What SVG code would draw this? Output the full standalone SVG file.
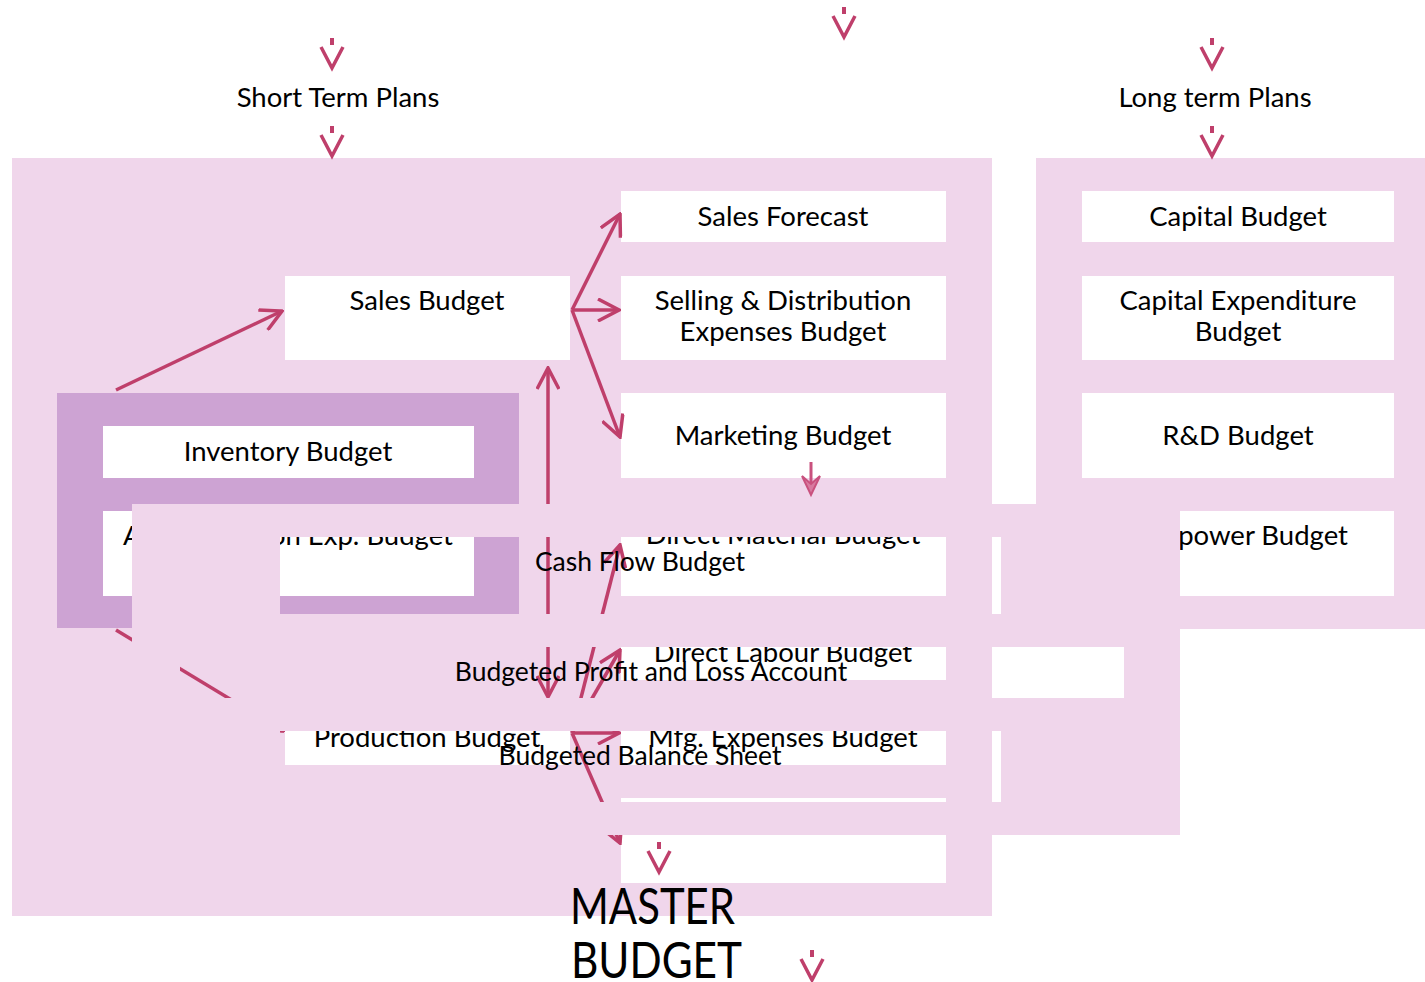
<svg xmlns="http://www.w3.org/2000/svg" width="1425" height="982" viewBox="0 0 1425 982">
<defs>
<style>
.pan{fill:#F0D6EB}
.pur{fill:#CDA3D3}
.box{fill:#FFFFFF}
.t{font-family:Lato,"Open Sans","Liberation Sans",sans-serif;font-size:27.5px;fill:#000;text-anchor:middle}
.o{font-size:26.5px}
.big{font-family:Lato,"Open Sans","Liberation Sans",sans-serif;font-size:50px;fill:#000}
.c{fill:none;stroke:#BF3F6B;stroke-width:3.5}
</style>
<marker id="ah" viewBox="0 0 24 24" refX="22" refY="12" markerWidth="24" markerHeight="24" markerUnits="userSpaceOnUse" orient="auto-start-reverse">
<path d="M1,1 L22,12 L1,23" fill="none" stroke="#BF3F6B" stroke-width="3.5"/>
</marker>
<g id="dn">
<line x1="0" y1="0" x2="0" y2="7" stroke="#BF3F6B" stroke-width="4"/>
<polyline points="-11,9 0,30 11,9" fill="none" stroke="#BF3F6B" stroke-width="3.5"/>
</g>
</defs>

<rect width="1425" height="982" fill="#FFFFFF"/>

<g id="panels">
<rect class="pan" x="12" y="158" width="980" height="758"/>
<rect class="pan" x="1036" y="158" width="389" height="471"/>
<rect class="pur" x="57" y="393" width="462" height="235"/>
</g>

<g id="title-short"><text class="t" x="338" y="107">Short Term Plans</text></g>
<g id="title-long"><text class="t" x="1215" y="107">Long term Plans</text></g>

<g id="sales-forecast"><rect class="box" x="621" y="191" width="325" height="51"/><text class="t" x="783" y="226">Sales Forecast</text></g>
<g id="sales-budget"><rect class="box" x="285" y="276" width="285" height="84"/><text class="t" x="427" y="310">Sales Budget</text></g>
<g id="selling-dist"><rect class="box" x="621" y="276" width="325" height="84"/><text class="t" x="783" y="310">Selling &amp; Distribution</text><text class="t" x="783" y="341">Expenses Budget</text></g>
<g id="marketing"><rect class="box" x="621" y="393" width="325" height="85"/><text class="t" x="783" y="445">Marketing Budget</text></g>
<g id="capital-budget"><rect class="box" x="1082" y="191" width="312" height="51"/><text class="t" x="1238" y="226">Capital Budget</text></g>
<g id="capex"><rect class="box" x="1082" y="276" width="312" height="84"/><text class="t" x="1238" y="310">Capital Expenditure</text><text class="t" x="1238" y="341">Budget</text></g>
<g id="rnd"><rect class="box" x="1082" y="393" width="312" height="85"/><text class="t" x="1238" y="445">R&amp;D Budget</text></g>
<g id="manpower"><rect class="box" x="1082" y="511" width="312" height="85"/><text class="t" x="1236" y="545">Manpower Budget</text></g>
<g id="inventory"><rect class="box" x="103" y="426" width="371" height="52"/><text class="t" x="288" y="461">Inventory Budget</text></g>
<g id="admin"><rect class="box" x="103" y="511" width="371" height="85"/><text class="t" x="288" y="545">Administration Exp. Budget</text></g>
<g id="direct-material"><rect class="box" x="621" y="511" width="325" height="85"/><text class="t" x="783" y="544">Direct Material Budget</text></g>
<g id="direct-labour"><rect class="box" x="621" y="628" width="325" height="52"/><text class="t" x="783" y="662">Direct Labour Budget</text></g>
<g id="mfg"><rect class="box" x="621" y="711" width="325" height="54"/><text class="t" x="783" y="747">Mfg. Expenses Budget</text></g>
<g id="production"><rect class="box" x="285" y="700" width="285" height="65"/><text class="t" x="427" y="747">Production Budget</text></g>
<g id="bottom-box"><rect class="box" x="621" y="798" width="325" height="85"/></g>

<g id="connectors">
<line class="c" x1="116" y1="390" x2="282" y2="311" marker-end="url(#ah)"/>
<line class="c" x1="572" y1="310" x2="620" y2="214" marker-end="url(#ah)"/>
<line class="c" x1="572" y1="310" x2="619" y2="310" marker-end="url(#ah)"/>
<line class="c" x1="572" y1="310" x2="620" y2="437" marker-end="url(#ah)"/>
<line class="c" x1="548" y1="368" x2="548" y2="697" marker-start="url(#ah)" marker-end="url(#ah)"/>
<line class="c" x1="116" y1="630" x2="283" y2="731" marker-end="url(#ah)"/>
<line class="c" x1="572" y1="733" x2="620" y2="545" marker-end="url(#ah)"/>
<line class="c" x1="572" y1="733" x2="620" y2="650" marker-end="url(#ah)"/>
<line class="c" x1="572" y1="733" x2="619" y2="733" marker-end="url(#ah)"/>
<line class="c" x1="572" y1="733" x2="620" y2="843" marker-end="url(#ah)"/>
<line x1="811" y1="462" x2="811" y2="486" stroke="#C9517E" stroke-width="3"/>
<polygon points="802,476 811,495 820,476 811,484" fill="#D87AA0" stroke="#C9517E" stroke-width="2"/>
<use href="#dn" x="332" y="38"/>
<use href="#dn" x="332" y="126"/>
<use href="#dn" x="844" y="7"/>
<use href="#dn" x="1212" y="38"/>
<use href="#dn" x="1212" y="126"/>
<use href="#dn" x="659" y="842"/>
<use href="#dn" x="812" y="950"/>
</g>

<g id="overlay">
<path class="pan" fill-rule="evenodd" d="M132 504H1180V835H132Z M280 537H1001V614H280Z M180 647H1124V698H180Z M280 731H1001V802H280Z"/>
</g>
<g id="cash-flow"><text class="t o" x="640" y="571">Cash Flow Budget</text></g>
<g id="profit-loss"><text class="t o" x="651" y="681">Budgeted Profit and Loss Account</text></g>
<g id="balance-sheet"><text class="t o" x="640" y="765">Budgeted Balance Sheet</text></g>

<g id="master-budget">
<text class="big" x="570" y="924" textLength="165" lengthAdjust="spacingAndGlyphs">MASTER</text>
<text class="big" x="571" y="978" textLength="171" lengthAdjust="spacingAndGlyphs">BUDGET</text>
</g>
</svg>
